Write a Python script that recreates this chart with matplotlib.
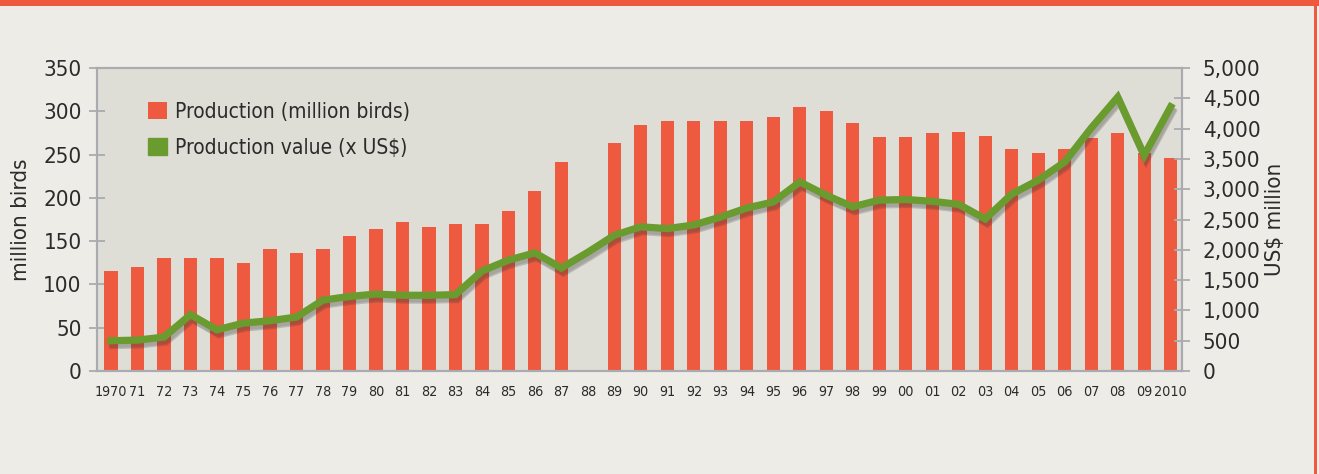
import numpy as np
import matplotlib
matplotlib.use("Agg")
import matplotlib.pyplot as plt
from matplotlib import font_manager
from matplotlib.patches import Patch
import matplotlib.patheffects as pe

# data
years = list(range(1970, 2011))
tick_labels = ['1970'] + ['%02d' % (y % 100) for y in years[1:-1]] + ['2010']
production = [116, 120, 130, 130, 130, 125, 141, 136, 141, 156,
              164, 172, 166, 170, 170, 185, 208, 241, 0, 263,
              284, 289, 289, 289, 289, 293, 305, 300, 287, 270,
              270, 275, 276, 271, 257, 252, 257, 269, 275, 252, 246]
value = [500, 510, 560, 930, 680, 790, 830, 890, 1170, 1230,
         1270, 1250, 1250, 1260, 1650, 1830, 1950, 1700, 1960, 2240,
         2380, 2350, 2410, 2540, 2690, 2790, 3120, 2900, 2710, 2820,
         2830, 2800, 2750, 2510, 2920, 3150, 3450, 4010, 4520, 3560, 4360]

names = {f.name for f in font_manager.fontManager.ttflist}
if 'Liberation Sans Narrow' in names:
    plt.rcParams['font.family'] = ['Liberation Sans Narrow', 'DejaVu Sans']
else:
    plt.rcParams['font.family'] = ['DejaVu Sans']
    plt.rcParams['font.stretch'] = 'condensed'

red = '#EE5A40'
green = '#6A9B2E'
grey = '#A9ABB0'
txt = '#2B2B2B'

fig = plt.figure(figsize=(13.19, 4.74), dpi=100, facecolor='#EDECE7')
ax1 = fig.add_axes([0.0735, 0.2173, 0.8225, 0.6392])
ax1.set_facecolor('#DFDED6')
x = np.arange(len(years))
bars = ax1.bar(x, production, width=0.5, color=red, zorder=2)
ax1.set_ylim(0, 350)
ax1.set_yticks(range(0, 351, 50))
ax1.set_xlim(-0.53, 40.42)
ax1.set_xticks(x)
ax1.set_xticklabels(tick_labels, fontsize=10.3, color=txt)
ax1.tick_params(axis='x', length=0, pad=10)
ax1.tick_params(axis='y', direction='inout', length=12, width=1.3, color=grey,
                labelsize=16, labelcolor=txt, pad=5)
ax1.set_ylabel('million birds', fontsize=16, color=txt, labelpad=9)

ax2 = ax1.twinx()
ax2.plot(x, value, color=green, lw=5.2, solid_joinstyle='miter', zorder=3,
         path_effects=[pe.SimpleLineShadow(offset=(1.5, -3.5), shadow_color='#333333', alpha=0.22),
                       pe.SimpleLineShadow(offset=(1, -2.5), shadow_color='#333333', alpha=0.15),
                       pe.Normal()])
ax2.set_ylim(0, 5000)
ax2.set_yticks(range(0, 5001, 500))
ax2.set_yticklabels(['{:,}'.format(v) for v in range(0, 5001, 500)])
ax2.tick_params(axis='y', direction='inout', length=12, width=1.3, color=grey,
                labelsize=16, labelcolor=txt, pad=9)
ax2.set_ylabel('US$ million', fontsize=16, color=txt, rotation=90, labelpad=3)

for ax in (ax1, ax2):
    for s in ax.spines.values():
        s.set_color(grey)
        s.set_linewidth(1.5)

ax2.legend([bars, Patch(color=green)],
           ['Production (million birds)', 'Production value (x US$)'],
           loc='upper left', bbox_to_anchor=(0.03, 0.95), frameon=False,
           fontsize=15, handlelength=0.9, handleheight=0.9, handletextpad=0.4,
           labelspacing=0.75, labelcolor=txt)

# orange frame accents
fig.add_artist(plt.Rectangle((0, 0.987), 1, 0.013, transform=fig.transFigure, color=red, lw=0))
fig.add_artist(plt.Rectangle((0.9962, 0), 0.0022, 0.987, transform=fig.transFigure, color=red, lw=0))

fig.savefig('out.png', dpi=100, facecolor=fig.get_facecolor())
